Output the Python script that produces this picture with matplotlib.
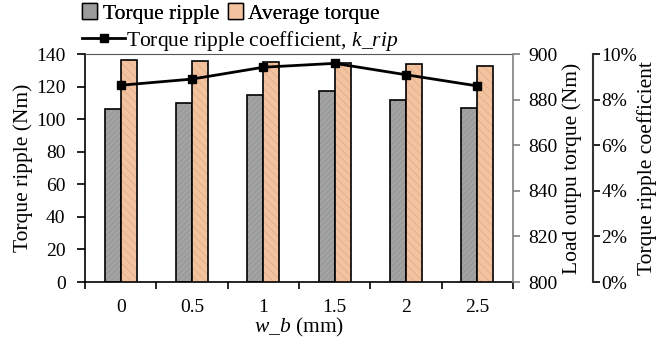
import matplotlib
matplotlib.use("Agg")
import matplotlib.pyplot as plt
from matplotlib.patches import Patch
from matplotlib.lines import Line2D
from matplotlib.ticker import PercentFormatter

plt.rcParams['font.family'] = 'Liberation Serif'
plt.rcParams['mathtext.fontset'] = 'custom'
plt.rcParams['mathtext.rm'] = 'Liberation Serif'
plt.rcParams['mathtext.it'] = 'Liberation Serif:italic'
plt.rcParams['hatch.linewidth'] = 0.5

# data
w_b = ["0", "0.5", "1", "1.5", "2", "2.5"]
torque_ripple = [106, 110, 115, 117, 112, 107]
avg_torque = [897.2, 896.9, 896.5, 896.2, 895.5, 894.7]
k_rip = [0.0863, 0.089, 0.0942, 0.0959, 0.0909, 0.086]

fs = 14      # tick labels
fl = 15.5    # axis labels / legend
x = list(range(len(w_b)))
bw = 0.225

fig = plt.figure(figsize=(6.57, 3.44), dpi=100)
ax = fig.add_axes([0.1294, 0.1802, 0.6514, 0.6628])
ax2 = ax.twinx()
ax3 = ax.twinx()

# gray bars (left axis)
xg = [i - bw / 2 for i in x]
ax.bar(xg, torque_ripple, bw, color="#9c9c9c", edgecolor="#b0b0b0", linewidth=0, hatch="//////", zorder=2)
ax.bar(xg, torque_ripple, bw, color="none", edgecolor="black", linewidth=1.2, zorder=3)

# orange bars (right axis 800-900)
xo = [i + bw / 2 for i in x]
h_avg = [v - 800 for v in avg_torque]
ax2.bar(xo, h_avg, bw, bottom=800, color="#f3c3a0", edgecolor="#e2a884", linewidth=0, hatch="\\\\\\\\", zorder=2)
ax2.bar(xo, h_avg, bw, bottom=800, color="none", edgecolor="black", linewidth=1.2, zorder=3)

# coefficient line
ax3.plot(x, k_rip, color="black", linewidth=2, marker="s", markersize=6, zorder=5)

ax.set_xlim(-0.5, len(w_b) - 0.5)
ax.set_ylim(0, 140)
ax.set_yticks(range(0, 141, 20))
ax2.set_ylim(800, 900)
ax2.set_yticks(range(800, 901, 20))
ax3.set_ylim(0, 0.1)
ax3.set_yticks([0, 0.02, 0.04, 0.06, 0.08, 0.1])
ax3.yaxis.set_major_formatter(PercentFormatter(1.0, decimals=0))

# x ticks at category boundaries, labels at centers
ax.set_xticks([i - 0.5 for i in range(len(w_b) + 1)])
ax.set_xticklabels([])
ax.set_xticks(x, minor=True)
ax.set_xticklabels(w_b, minor=True, fontsize=fs)
ax.tick_params(axis="x", which="major", length=5, width=1.2, direction="out")
ax.tick_params(axis="x", which="minor", length=0, pad=12)
ax.tick_params(axis="y", length=6, width=1.2, labelsize=fs, pad=8)
ax2.tick_params(axis="y", length=5, width=1.2, color="#808080", labelsize=fs, pad=6)
ax3.tick_params(axis="y", length=5, width=1.2, labelsize=fs, pad=1)

ax.spines["left"].set_linewidth(1.2)
ax.spines["bottom"].set_linewidth(1.2)
ax.spines["top"].set_color("#555555")
ax.spines["right"].set_visible(False)
for s in ["left", "top", "bottom"]:
    ax2.spines[s].set_visible(False)
    ax3.spines[s].set_visible(False)
ax2.spines["right"].set_color("#808080")
ax2.spines["right"].set_linewidth(1.2)
ax3.spines["right"].set_position(("axes", 1.187))
ax3.spines["right"].set_color("#333333")
ax3.spines["right"].set_linewidth(1.5)

ax.set_ylabel("Torque ripple (Nm)", fontsize=fl, labelpad=2)
ax2.set_ylabel("Load outpu torque (Nm)", fontsize=fl, labelpad=3)
ax3.set_ylabel("Torque ripple coefficient", fontsize=fl, labelpad=0)
ax.set_xlabel(r"$w\_b$ (mm)", fontsize=fl, labelpad=0)

# legend rows
h1 = [Patch(facecolor="#9c9c9c", edgecolor="black", linewidth=1.0),
      Patch(facecolor="#f3c3a0", edgecolor="black", linewidth=1.0)]
leg1 = fig.legend(h1, ["Torque ripple", "Average torque"], ncol=2, frameon=False,
                  fontsize=fl, loc="upper left", bbox_to_anchor=(0.125, 0.99),
                  handlelength=0.7, handleheight=0.7, handletextpad=0.25,
                  columnspacing=0.4, borderaxespad=0, borderpad=0)
h2 = [Line2D([], [], color="black", linewidth=2, marker="s", markersize=6)]
leg2 = fig.legend(h2, [r"Torque ripple coefficient, $k\_rip$"], frameon=False,
                  fontsize=fl, loc="upper left", bbox_to_anchor=(0.125, 0.917),
                  handlelength=2.0, handletextpad=0.05, borderaxespad=0, borderpad=0)
fig.add_artist(leg1)

fig.savefig("out.png", dpi=100)
